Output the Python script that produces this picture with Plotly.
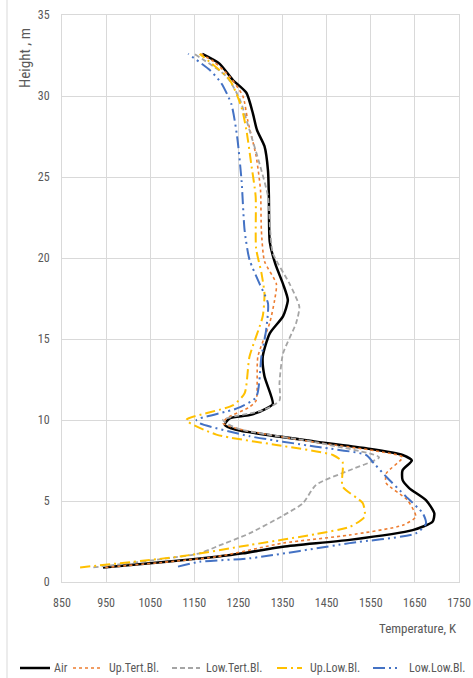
import plotly.graph_objects as go

# ---- data (temperature K, height m) ----
air_T = [943, 1087, 1200, 1260, 1351, 1502, 1645, 1690, 1694, 1675, 1637, 1622, 1622, 1643, 1622, 1539, 1426, 1245, 1219, 1230, 1275, 1313, 1328, 1309, 1305, 1321, 1351, 1362, 1351, 1334, 1321, 1319, 1317, 1309, 1292, 1283, 1268, 1237, 1207, 1168]
air_h = [0.9, 1.25, 1.56, 1.77, 2.18, 2.6, 3.2, 3.72, 4.24, 5.06, 5.8, 6.3, 6.9, 7.5, 7.84, 8.25, 8.66, 9.4, 9.7, 10.1, 10.3, 10.7, 11.0, 12.7, 13.9, 15.35, 16.4, 17.4, 18.4, 19.6, 21.0, 23.8, 25.4, 26.9, 27.9, 28.9, 30.2, 31.0, 32.0, 32.6]

uptert_T = [948, 1200, 1351, 1502, 1622, 1652, 1633, 1585, 1585, 1622, 1560, 1430, 1250, 1215, 1223, 1275, 1290, 1294, 1321, 1332, 1336, 1309, 1302, 1300, 1290, 1271, 1260, 1230, 1195, 1165]
uptert_h = [0.9, 1.56, 2.4, 2.9, 3.5, 4.03, 5.06, 6.1, 6.7, 7.7, 8.1, 8.6, 9.45, 9.8, 10.1, 10.8, 11.2, 13.9, 16.0, 17.4, 18.4, 19.8, 21.7, 24.2, 26.3, 28.5, 30.0, 31.2, 32.1, 32.6]

lowtert_T = [921, 1162, 1200, 1275, 1351, 1396, 1426, 1502, 1569, 1430, 1250, 1215, 1305, 1343, 1343, 1351, 1381, 1388, 1366, 1328, 1322, 1317, 1298, 1275, 1253, 1223, 1150]
lowtert_h = [0.9, 1.77, 2.18, 3.0, 4.1, 4.86, 6.0, 6.9, 7.7, 8.6, 9.45, 10.0, 10.6, 11.2, 12.3, 14.1, 16.0, 17.0, 18.4, 20.3, 21.7, 23.8, 25.8, 27.9, 29.8, 31.2, 32.6]

uplow_T = [891, 1124, 1275, 1426, 1502, 1536, 1532, 1486, 1486, 1464, 1336, 1200, 1132, 1237, 1264, 1275, 1305, 1309, 1302, 1290, 1289, 1279, 1268, 1257, 1230, 1162]
uplow_h = [0.9, 1.6, 2.28, 2.96, 3.4, 4.03, 4.86, 5.9, 7.4, 7.84, 8.46, 9.1, 10.0, 10.9, 11.65, 13.9, 16.4, 17.8, 19.1, 20.6, 23.8, 25.8, 27.9, 29.3, 31.0, 32.6]

lowlow_T = [1113, 1162, 1275, 1502, 1652, 1675, 1668, 1630, 1585, 1558, 1539, 1426, 1275, 1162, 1155, 1245, 1290, 1302, 1313, 1317, 1298, 1275, 1264, 1257, 1247, 1234, 1211, 1185, 1136]
lowlow_h = [0.95, 1.25, 1.46, 2.4, 3.0, 3.6, 4.24, 5.27, 6.5, 7.3, 7.84, 8.35, 9.0, 9.8, 10.0, 10.7, 11.4, 13.9, 15.6, 17.2, 18.4, 19.9, 21.7, 24.8, 27.5, 29.5, 30.8, 31.6, 32.6]

x_ticks = [850, 950, 1050, 1150, 1250, 1350, 1450, 1550, 1650, 1750]
y_ticks = [0, 5, 10, 15, 20, 25, 30, 35]

FONT = "Liberation Sans Narrow, Roboto Condensed, Arial Narrow, Liberation Sans, sans-serif"
GRID = "#d9d9d9"
TXT = "#595959"

series = [
    ("Air", air_T, air_h, dict(color="black", width=2.5)),
    ("Up.Tert.Bl.", uptert_T, uptert_h, dict(color="#ED7D31", width=1.6, dash="dot")),
    ("Low.Tert.Bl.", lowtert_T, lowtert_h, dict(color="#A5A5A5", width=1.8, dash="5px,3px")),
    ("Up.Low.Bl.", uplow_T, uplow_h, dict(color="#FFC000", width=2, dash="10px,4px,2px,4px")),
    ("Low.Low.Bl.", lowlow_T, lowlow_h, dict(color="#4472C4", width=2, dash="12px,4px,2px,4px,2px,4px")),
]

fig = go.Figure()
for name, T, h, ln in series:
    fig.add_trace(go.Scatter(x=T, y=h, mode="lines", name=name,
                             line=dict(**ln, shape="spline", smoothing=0.6)))

# custom one-row legend (pixel positions converted to paper coords)
PL, PR, PT, PB = 62, 459, 15, 582
def px(x):
    return (x - PL) / (PR - PL)
def py(y):
    return (PB - y) / (PB - PT)

leg_pos = [(20, 50, 52), (73, 102, 107), (172, 200, 204), (277, 302, 308), (373, 400, 407)]
shapes = []
annotations = []
ly = py(668)
for (name, T, h, ln), (x0, x1, xt) in zip(series, leg_pos):
    shapes.append(dict(type="line", xref="paper", yref="paper", x0=px(x0), x1=px(x1),
                       y0=ly, y1=ly, line=dict(color=ln["color"], width=ln["width"],
                                               dash=ln.get("dash", "solid"))))
    annotations.append(dict(text=name, xref="paper", yref="paper", x=px(xt), y=ly,
                            xanchor="left", yanchor="middle", showarrow=False,
                            font=dict(family=FONT, size=12, color=TXT)))

annotations += [
    dict(text="Temperature, K", xref="paper", yref="paper", x=1.0, y=py(628),
         xanchor="right", yanchor="middle", showarrow=False,
         font=dict(family=FONT, size=13, color=TXT)),
    dict(text="Height , m", xref="paper", yref="paper", x=px(25), y=py(58),
         xanchor="center", yanchor="middle", textangle=-90, showarrow=False,
         font=dict(family=FONT, size=15, color=TXT)),
]
shapes.append(dict(type="line", xref="paper", yref="paper", x0=px(7), x1=px(7),
                   y0=py(690), y1=py(-10), line=dict(color=GRID, width=1)))

fig.update_layout(
    width=473, height=678,
    margin=dict(l=PL, r=473 - PR, t=PT, b=678 - PB, autoexpand=False),
    paper_bgcolor="white", plot_bgcolor="white",
    font=dict(family=FONT, size=12, color=TXT),
    showlegend=False,
    xaxis=dict(range=[850, 1750], tickvals=x_ticks, ticktext=[str(v) for v in x_ticks],
               showgrid=True, gridcolor=GRID, gridwidth=1, zeroline=False, automargin=False,
               showline=True, linecolor=GRID, mirror=True, ticks="",
               tickfont=dict(size=12, color=TXT), ticklabelstandoff=10),
    yaxis=dict(range=[0, 35], tickvals=y_ticks, ticktext=[str(v) for v in y_ticks],
               showgrid=True, gridcolor=GRID, gridwidth=1, zeroline=False, automargin=False,
               showline=True, linecolor=GRID, mirror=True, ticks="",
               tickfont=dict(size=12, color=TXT), ticklabelstandoff=9),
    annotations=annotations,
    shapes=shapes,
)

fig.write_html("out.html", config={"displayModeBar": False},
               post_script="document.body.style.margin='0';document.body.style.overflow='hidden';")
